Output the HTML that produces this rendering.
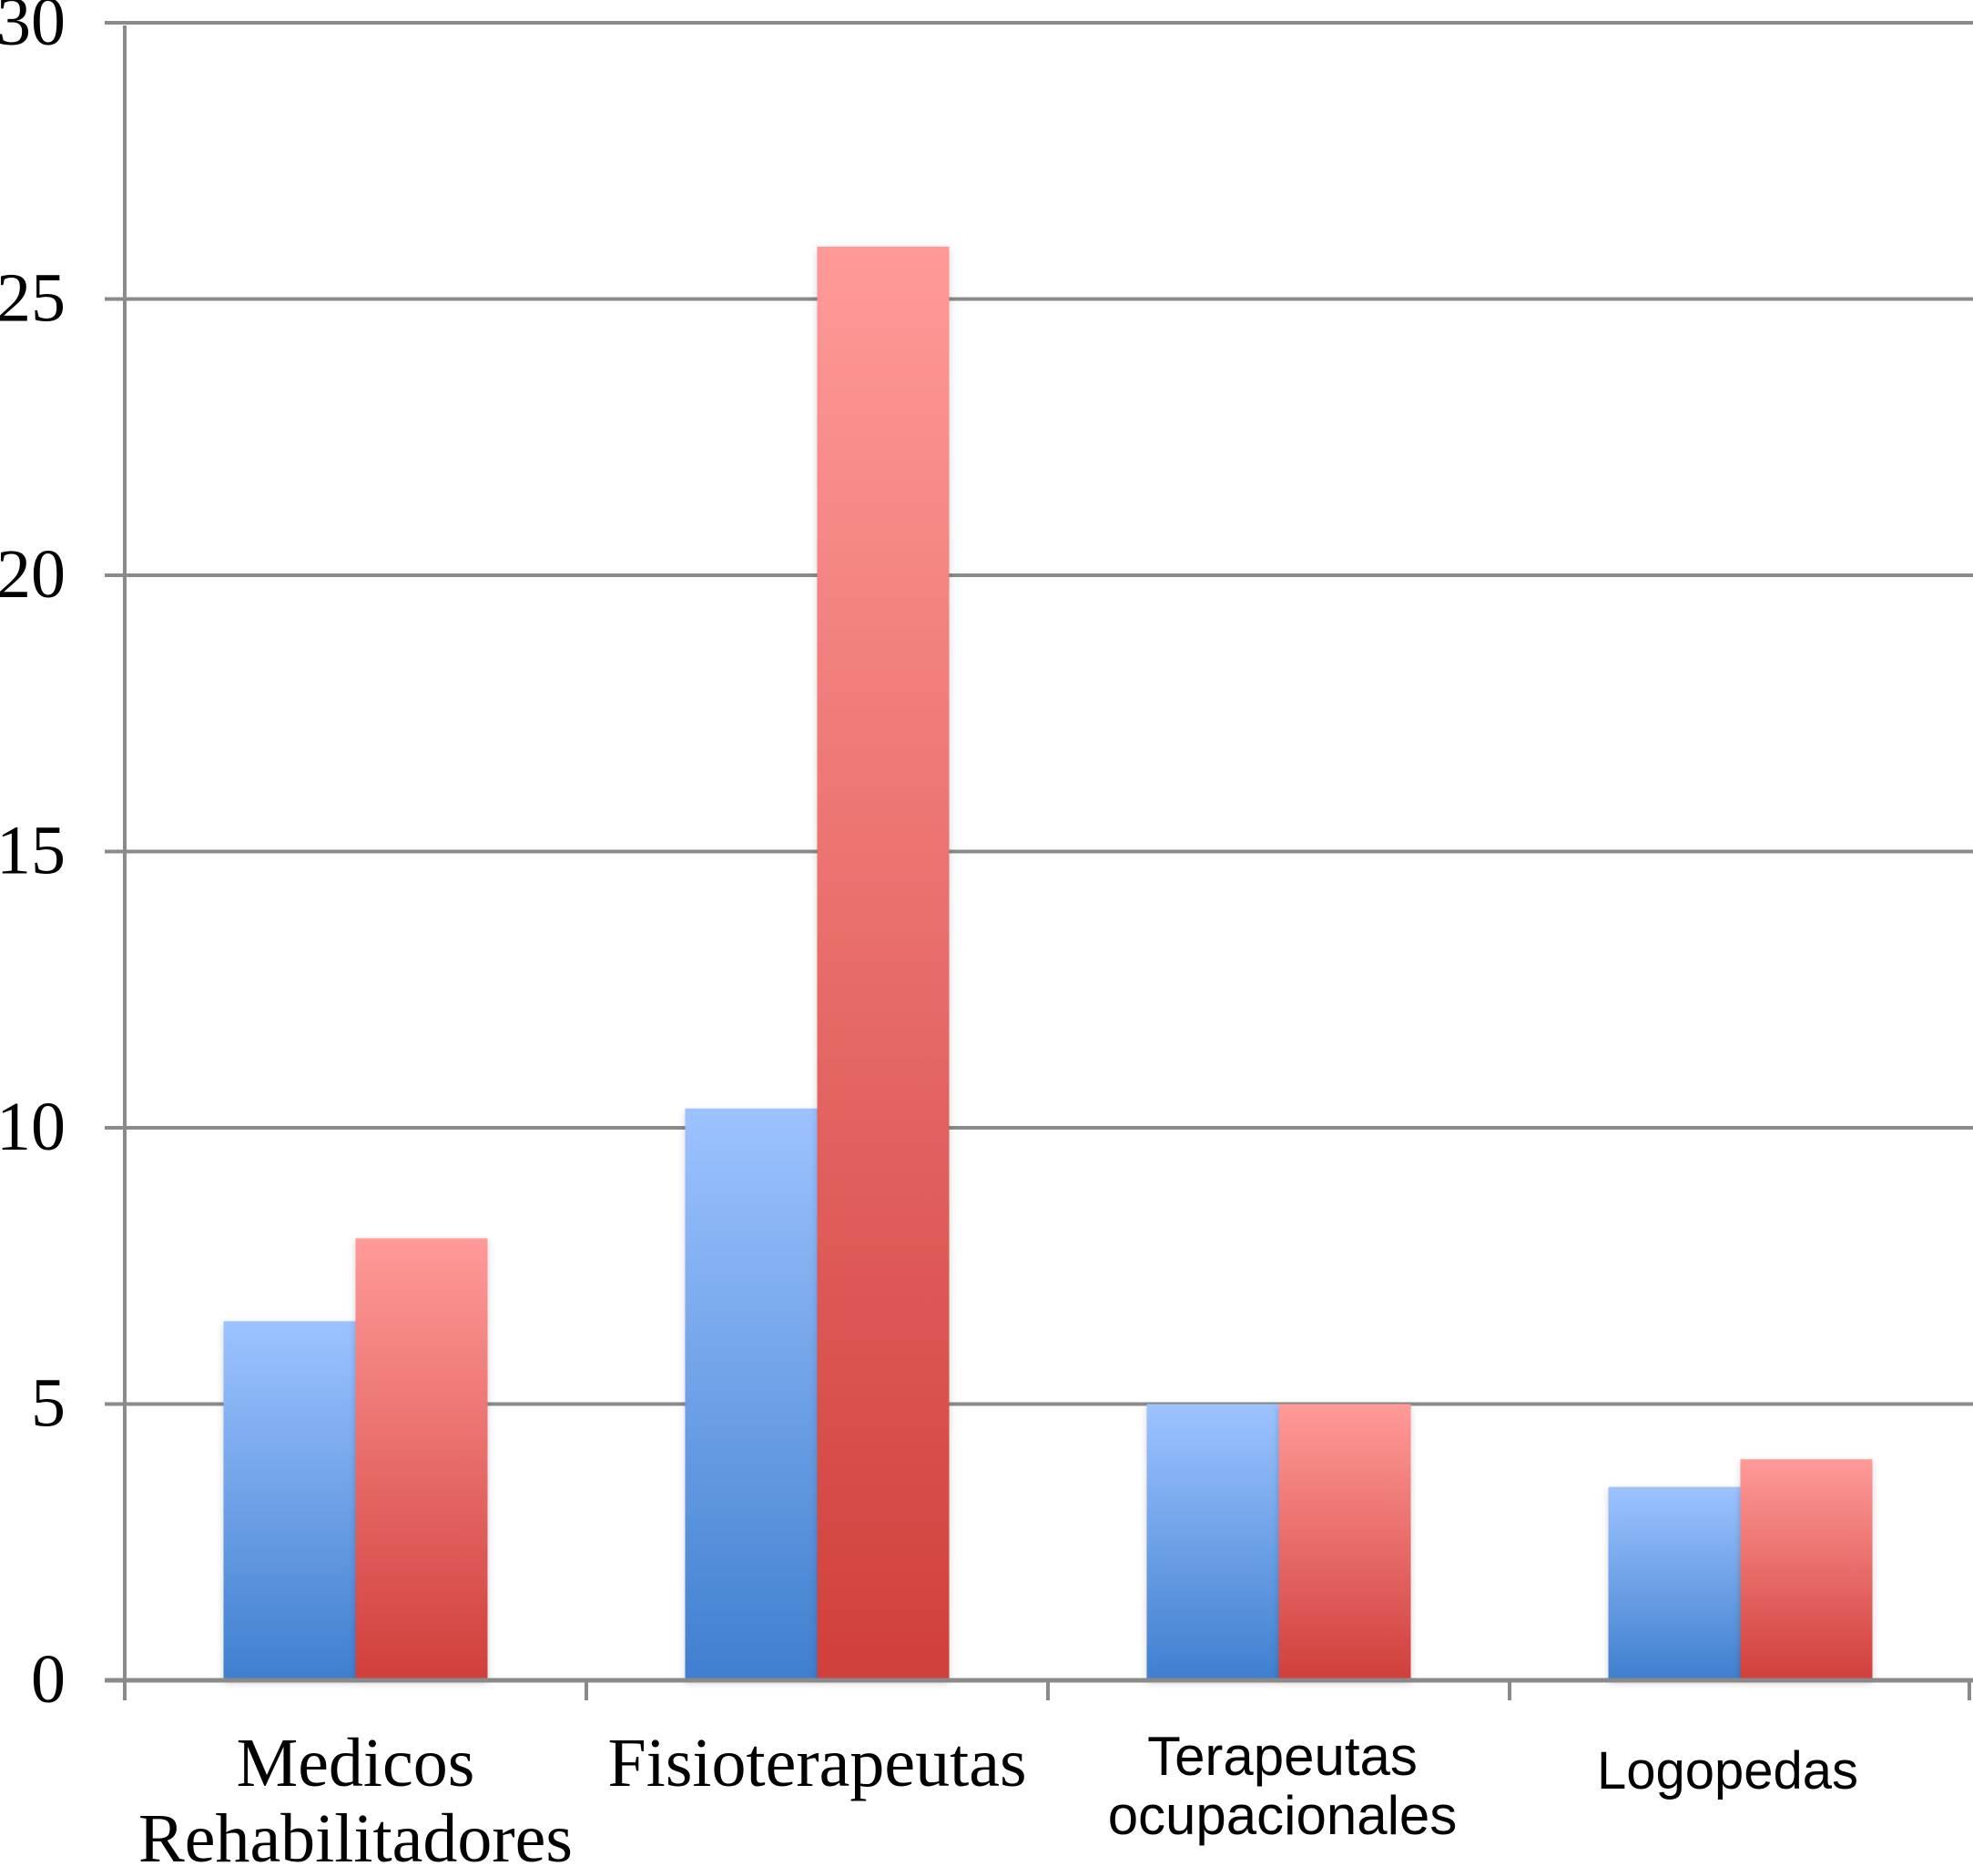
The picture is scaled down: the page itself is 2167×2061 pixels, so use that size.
<!DOCTYPE html>
<html><head><meta charset="utf-8">
<style>
html,body{margin:0;padding:0;background:#fff;}
svg{display:block;}
.serif{font-family:"Liberation Serif","DejaVu Serif",serif;}
.sans{font-family:"Liberation Sans","DejaVu Sans",sans-serif;}
</style></head>
<body>
<svg id="chart" width="2167" height="2061" viewBox="0 0 2167 2061" xmlns="http://www.w3.org/2000/svg">
<defs>
<linearGradient id="gBlue" x1="0" y1="0" x2="0" y2="1">
<stop offset="0" stop-color="#9dc3ff"/><stop offset="1" stop-color="#3f7fcf"/>
</linearGradient>
<linearGradient id="gRed" x1="0" y1="0" x2="0" y2="1">
<stop offset="0" stop-color="#ff9a98"/><stop offset="1" stop-color="#d03f3b"/>
</linearGradient>
<filter id="sh" x="-10%" y="-5%" width="120%" height="110%">
<feDropShadow dx="0" dy="3" stdDeviation="4" flood-color="#000" flood-opacity="0.18"/>
</filter>
</defs>
<g id="grid"></g>
<g id="bars"></g>
<g id="axes"></g>
<g id="labels"></g>
</svg>
<script>
const categories = [["Medicos","Rehabilitadores"],["Fisioterapeutas"],["Terapeutas","ocupacionales"],["Logopedas"]];
const seriesBlue = [6.5, 10.35, 5, 3.5];
const seriesRed = [8, 25.95, 5, 4];
const yTicks = [0, 5, 10, 15, 20, 25, 30];
const labelFonts = ["serif","serif","sans","sans"];

const NS = "http://www.w3.org/2000/svg";
const X0 = 137, X1 = 2165, Y0 = 1846, Ytop = 25, YMAX = 30;
const catW = (X1 - X0) / categories.length;
const barW = 145, gap = (catW - 2*barW)/2;
function y(v){ return Y0 - (Y0 - Ytop) * v / YMAX; }
function xCat(i){ return X0 + i*catW; }
function mk(tag, attrs, parent){
  const e = document.createElementNS(NS, tag);
  for (const k in attrs) e.setAttribute(k, attrs[k]);
  parent.appendChild(e); return e;
}
const grid = document.getElementById('grid');
const bars = document.getElementById('bars');
const axes = document.getElementById('axes');
const labels = document.getElementById('labels');

yTicks.forEach(t => {
  if (t > 0) {
    const l = mk('line', {x1: 115, x2: 2167, y1: y(t), y2: y(t), stroke: '#8a8a8a', 'stroke-width': 4}, grid);
    
    
  }
  const tx = mk('text', {x: 72, y: y(t) + 24, 'text-anchor': 'end', 'font-size': 76, fill: '#000', class: 'serif'}, labels);
  tx.textContent = String(t);
  
  
});

const labelShift = [0, 0, 4, -14];
categories.forEach((c, i) => {
  const bx = xCat(i) + gap;
  const b = mk('rect', {x: bx, y: y(seriesBlue[i]), width: barW, height: Y0 - y(seriesBlue[i]), fill: 'url(#gBlue)', filter: 'url(#sh)'}, bars);
  
  
  const r = mk('rect', {x: bx + barW, y: y(seriesRed[i]), width: barW, height: Y0 - y(seriesRed[i]), fill: 'url(#gRed)', filter: 'url(#sh)'}, bars);
  
  

  const cx = xCat(i) + catW/2 + labelShift[i];
  const serif = labelFonts[i] === 'serif';
  const fs = serif ? 76 : (i === 3 ? 58 : 60);
  let ys;
  if (c.length === 2) ys = serif ? [1962, 2045] : [1950, 2015];
  else ys = serif ? [1962] : [1965];
  c.forEach((line, k) => {
    const t = mk('text', {x: cx, y: ys[k], 'text-anchor': 'middle', 'font-size': fs, fill: '#000', class: serif ? 'serif' : 'sans'}, labels);
    t.textContent = line;
    
    
  });
});

const yAxis = mk('line', {x1: X0, x2: X0, y1: 28, y2: 1868, stroke: '#8a8a8a', 'stroke-width': 4}, axes);


const xAxis = mk('line', {x1: 115, x2: 2167, y1: Y0, y2: Y0, stroke: '#8a8a8a', 'stroke-width': 5}, axes);


for (let i = 1; i <= categories.length; i++) {
  const tk = mk('line', {x1: xCat(i) - (i === categories.length ? 2 : 0), x2: xCat(i) - (i === categories.length ? 2 : 0), y1: Y0, y2: 1868, stroke: '#8a8a8a', 'stroke-width': 4}, axes);
  
  
}
</script>
</body></html>
